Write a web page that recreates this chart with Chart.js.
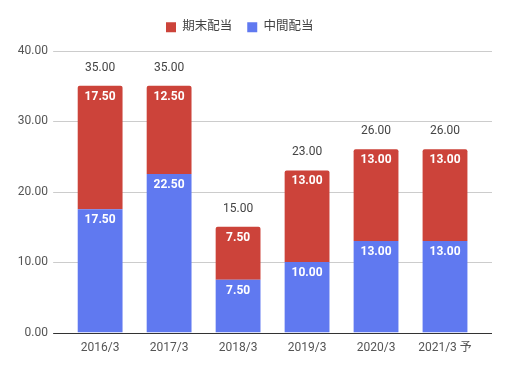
<!DOCTYPE html>
<html>
<head>
<meta charset="utf-8">
<script src="https://cdn.jsdelivr.net/npm/chart.js@4"></script>
<style>
  html, body { margin: 0; padding: 0; background: #fff; }
  #wrap { width: 508px; height: 368px; }
</style>
</head>
<body>
<div id="wrap"><canvas id="dividendChart" width="508" height="368"></canvas></div>
<script>
const categories = ["2016/3", "2017/3", "2018/3", "2019/3", "2020/3", "2021/3 予"];
const interimDividend = [17.5, 22.5, 7.5, 10, 13, 13];
const yearEndDividend = [17.5, 12.5, 7.5, 13, 13, 13];
const yTicks = [0, 10, 20, 30, 40];

const fontFamily = "Roboto, 'Noto Sans CJK JP', sans-serif";
const gridOverhang = 12.5; // gridlines run past the outer bars

// extra room under the legend
const legendSpacing = {
  id: "legendSpacing",
  beforeInit(chart) {
    const origFit = chart.legend.fit;
    chart.legend.fit = function () {
      origFit.bind(chart.legend)();
      this.height += 7;
    };
  },
};

// gridlines + baseline wider than the category area
const wideGrid = {
  id: "wideGrid",
  beforeDatasetsDraw(chart) {
    const ctx = chart.ctx;
    const area = chart.chartArea;
    const yScale = chart.scales.y;
    ctx.save();
    yTicks.forEach((t) => {
      const y = Math.round(yScale.getPixelForValue(t)) + 0.5;
      ctx.strokeStyle = t === 0 ? "#333333" : "#cccccc";
      ctx.lineWidth = 1;
      ctx.beginPath();
      ctx.moveTo(area.left - gridOverhang, y);
      ctx.lineTo(area.right + gridOverhang, y);
      ctx.stroke();
    });
    ctx.restore();
  },
};

// labels inside each segment + totals above bars
const valueLabels = {
  id: "valueLabels",
  afterDatasetsDraw(chart) {
    const ctx = chart.ctx;
    const yScale = chart.scales.y;
    ctx.save();
    ctx.textAlign = "center";
    ctx.textBaseline = "middle";
    ctx.font = "bold 12px " + fontFamily;
    ctx.fillStyle = "#ffffff";
    chart.data.datasets.forEach((ds, di) => {
      const meta = chart.getDatasetMeta(di);
      meta.data.forEach((bar, i) => {
        ctx.fillText(ds.data[i].toFixed(2), bar.x, bar.y + 11);
      });
    });
    ctx.font = "12px " + fontFamily;
    ctx.fillStyle = "#444444";
    const meta0 = chart.getDatasetMeta(0);
    categories.forEach((c, i) => {
      const total = interimDividend[i] + yearEndDividend[i];
      ctx.fillText(total.toFixed(2), meta0.data[i].x, yScale.getPixelForValue(total) - 18);
    });
    ctx.restore();
  },
};

new Chart(document.getElementById("dividendChart").getContext("2d"), {
  type: "bar",
  data: {
    labels: categories,
    datasets: [
      {
        label: "中間配当",
        data: interimDividend,
        backgroundColor: "#6079f0",
        borderWidth: 0,
      },
      {
        label: "期末配当",
        data: yearEndDividend,
        backgroundColor: "#cc433a",
        borderWidth: 0,
        borderRadius: { topLeft: 2, topRight: 2 },
        borderSkipped: false,
      },
    ],
  },
  options: {
    responsive: false,
    animation: false,
    datasets: { bar: { categoryPercentage: 1, barPercentage: 0.65 } },
    layout: { padding: { left: 0, right: 16 + gridOverhang, top: 6, bottom: 13 } },
    plugins: {
      legend: {
        display: true,
        position: "top",
        reverse: true,
        labels: {
          boxWidth: 10,
          boxHeight: 10,
          padding: 15,
          color: "#444444",
          font: { family: fontFamily, size: 12.5 },
        },
      },
      tooltip: { enabled: false },
    },
    scales: {
      x: {
        stacked: true,
        grid: { display: false },
        border: { display: false },
        ticks: { color: "#555555", font: { family: fontFamily, size: 12 }, padding: 0 },
      },
      y: {
        stacked: true,
        min: 0,
        max: 40,
        afterBuildTicks: (axis) => {
          axis.ticks = yTicks.map((v) => ({ value: v }));
        },
        grid: { display: false, drawTicks: false },
        border: { display: false },
        ticks: {
          color: "#555555",
          font: { family: fontFamily, size: 12 },
          padding: 17.75,
          callback: (v) => Number(v).toFixed(2),
        },
      },
    },
  },
  plugins: [legendSpacing, wideGrid, valueLabels],
});
</script>
</body>
</html>
